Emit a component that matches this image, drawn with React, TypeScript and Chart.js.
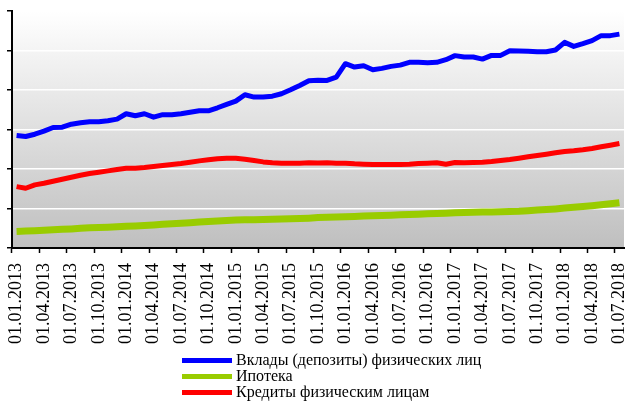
import React, { useEffect, useRef } from 'react';
import { Chart, registerables } from 'chart.js';

Chart.register(...registerables);

const categories = [
  '01.01.2013', '01.02.2013', '01.03.2013', '01.04.2013', '01.05.2013', '01.06.2013',
  '01.07.2013', '01.08.2013', '01.09.2013', '01.10.2013', '01.11.2013', '01.12.2013',
  '01.01.2014', '01.02.2014', '01.03.2014', '01.04.2014', '01.05.2014', '01.06.2014',
  '01.07.2014', '01.08.2014', '01.09.2014', '01.10.2014', '01.11.2014', '01.12.2014',
  '01.01.2015', '01.02.2015', '01.03.2015', '01.04.2015', '01.05.2015', '01.06.2015',
  '01.07.2015', '01.08.2015', '01.09.2015', '01.10.2015', '01.11.2015', '01.12.2015',
  '01.01.2016', '01.02.2016', '01.03.2016', '01.04.2016', '01.05.2016', '01.06.2016',
  '01.07.2016', '01.08.2016', '01.09.2016', '01.10.2016', '01.11.2016', '01.12.2016',
  '01.01.2017', '01.02.2017', '01.03.2017', '01.04.2017', '01.05.2017', '01.06.2017',
  '01.07.2017', '01.08.2017', '01.09.2017', '01.10.2017', '01.11.2017', '01.12.2017',
  '01.01.2018', '01.02.2018', '01.03.2018', '01.04.2018', '01.05.2018', '01.06.2018',
  '01.07.2018',
];

const deposits = [
  14.24, 14.11, 14.40, 14.79, 15.25, 15.29, 15.67, 15.85, 15.98, 15.98, 16.10, 16.31,
  16.99, 16.74, 16.99, 16.56, 16.88, 16.86, 16.99, 17.19, 17.37, 17.37, 17.75, 18.17,
  18.59, 19.40, 19.10, 19.10, 19.22, 19.53, 20.03, 20.58, 21.18, 21.24, 21.21, 21.63,
  23.33, 22.90, 23.08, 22.57, 22.74, 22.99, 23.15, 23.50, 23.50, 23.46, 23.50, 23.84,
  24.35, 24.17, 24.17, 23.91, 24.38, 24.38, 24.98, 24.93, 24.89, 24.85, 24.85, 25.06,
  26.03, 25.52, 25.87, 26.25, 26.88, 26.88, 27.07,
];

const mortgage = [
  2.10, 2.14, 2.18, 2.24, 2.30, 2.36, 2.42, 2.49, 2.56, 2.60, 2.64, 2.69,
  2.74, 2.79, 2.85, 2.92, 3.00, 3.07, 3.14, 3.21, 3.29, 3.36, 3.43, 3.49,
  3.55, 3.57, 3.59, 3.61, 3.63, 3.66, 3.69, 3.73, 3.78, 3.85, 3.90, 3.93,
  3.96, 4.00, 4.04, 4.08, 4.12, 4.16, 4.20, 4.24, 4.28, 4.32, 4.36, 4.40,
  4.45, 4.50, 4.52, 4.55, 4.57, 4.60, 4.62, 4.65, 4.72, 4.80, 4.87, 4.95,
  5.05, 5.15, 5.25, 5.36, 5.48, 5.60, 5.74,
];

const loans = [
  7.77, 7.56, 7.99, 8.19, 8.45, 8.70, 8.95, 9.21, 9.42, 9.59, 9.76, 9.93,
  10.09, 10.09, 10.18, 10.31, 10.44, 10.56, 10.69, 10.85, 11.03, 11.16, 11.29, 11.36,
  11.36, 11.23, 11.07, 10.90, 10.78, 10.73, 10.73, 10.73, 10.78, 10.75, 10.78, 10.73,
  10.73, 10.65, 10.60, 10.56, 10.56, 10.56, 10.56, 10.60, 10.69, 10.73, 10.78, 10.60,
  10.82, 10.78, 10.82, 10.85, 10.94, 11.07, 11.20, 11.36, 11.54, 11.70, 11.87, 12.05,
  12.21, 12.30, 12.43, 12.59, 12.81, 13.01, 13.23,
];

const seriesNames = ['Вклады (депозиты) физических лиц', 'Ипотека', 'Кредиты физическим лицам'];
const seriesColors = ['#0000FF', '#99CC00', '#FF0000'];
const seriesWidths = [5, 7, 5];

const yMin = 0;
const yMax = 30;
const yStep = 5;

const W = 626;
const H = 401;

const bgPlugin = {
  id: 'plotGradient',
  beforeDraw(chart: any) {
    const { ctx, chartArea: a } = chart;
    if (!a) return;
    const g = ctx.createLinearGradient(0, a.top, 0, a.bottom);
    g.addColorStop(0, '#ffffff');
    g.addColorStop(1, '#bfbfbf');
    ctx.save();
    ctx.fillStyle = g;
    ctx.fillRect(a.left, a.top, a.right - a.left, a.bottom - a.top);
    ctx.restore();
  },
};

export default function App() {
  const ref = useRef<HTMLCanvasElement | null>(null);

  useEffect(() => {
    if (!ref.current) return;
    const values = [deposits, mortgage, loans];
    const chart = new Chart(ref.current, {
      type: 'line',
      data: {
        labels: categories,
        datasets: values.map((d, i) => ({
          label: seriesNames[i],
          data: d,
          borderColor: seriesColors[i],
          backgroundColor: seriesColors[i],
          borderWidth: seriesWidths[i],
          pointRadius: 0,
          pointHoverRadius: 0,
          tension: 0,
          fill: false,
          borderJoinStyle: 'round' as const,
        })),
      },
      options: {
        responsive: false,
        animation: false,
        events: [],
        layout: { padding: { top: 11, left: 0, right: 2, bottom: 0 } },
        plugins: {
          legend: { display: false },
          tooltip: { enabled: false },
          title: { display: false },
        },
        scales: {
          x: {
            type: 'category',
            offset: true,
            afterFit: (scale: any) => {
              scale.height = H - 248;
              scale.paddingLeft = 0;
              scale.paddingRight = 0;
            },
            grid: {
              offset: true,
              drawOnChartArea: false,
              drawTicks: true,
              tickLength: 5,
              tickWidth: 1.5,
              tickColor: (ctx: any) => (ctx.index % 3 === 0 ? '#000000' : 'rgba(0,0,0,0)'),
            },
            border: { display: true, color: '#000000', width: 2 },
            ticks: {
              autoSkip: false,
              maxRotation: 90,
              minRotation: 90,
              padding: 10,
              color: '#000000',
              font: { family: '"Liberation Serif", "Times New Roman", serif', size: 18 },
              callback: (_v: any, i: number) => (i % 3 === 0 ? categories[i] : ''),
            },
          },
          y: {
            min: yMin,
            max: yMax,
            afterFit: (scale: any) => {
              scale.width = 12;
              scale.paddingTop = 0;
              scale.paddingBottom = 0;
            },
            grid: {
              color: '#ffffff',
              lineWidth: 1.5,
              drawTicks: true,
              tickLength: 5,
              tickColor: '#000000',
              tickWidth: 1.5,
            },
            border: { display: true, color: '#000000', width: 2 },
            ticks: { display: false, stepSize: yStep },
          },
        },
      },
      plugins: [bgPlugin],
    });
    return () => chart.destroy();
  }, []);

  return (
    <div style={{ position: 'absolute', left: 0, top: 0, width: W, height: H, background: '#ffffff' }}>
      <canvas ref={ref} width={W} height={H} style={{ display: 'block' }} />
      <div
        style={{
          position: 'absolute',
          left: 182,
          top: 352,
          fontFamily: '"Liberation Serif", "Times New Roman", serif',
          fontSize: 16,
          lineHeight: '16px',
          color: '#000000',
        }}
      >
        {seriesNames.map((name, i) => (
          <div key={name} style={{ display: 'flex', alignItems: 'center', height: 16, whiteSpace: 'nowrap' }}>
            <span
              style={{
                display: 'inline-block',
                width: 50,
                height: 5,
                background: seriesColors[i],
                marginRight: 4,
              }}
            />
            <span>{name}</span>
          </div>
        ))}
      </div>
    </div>
  );
}
